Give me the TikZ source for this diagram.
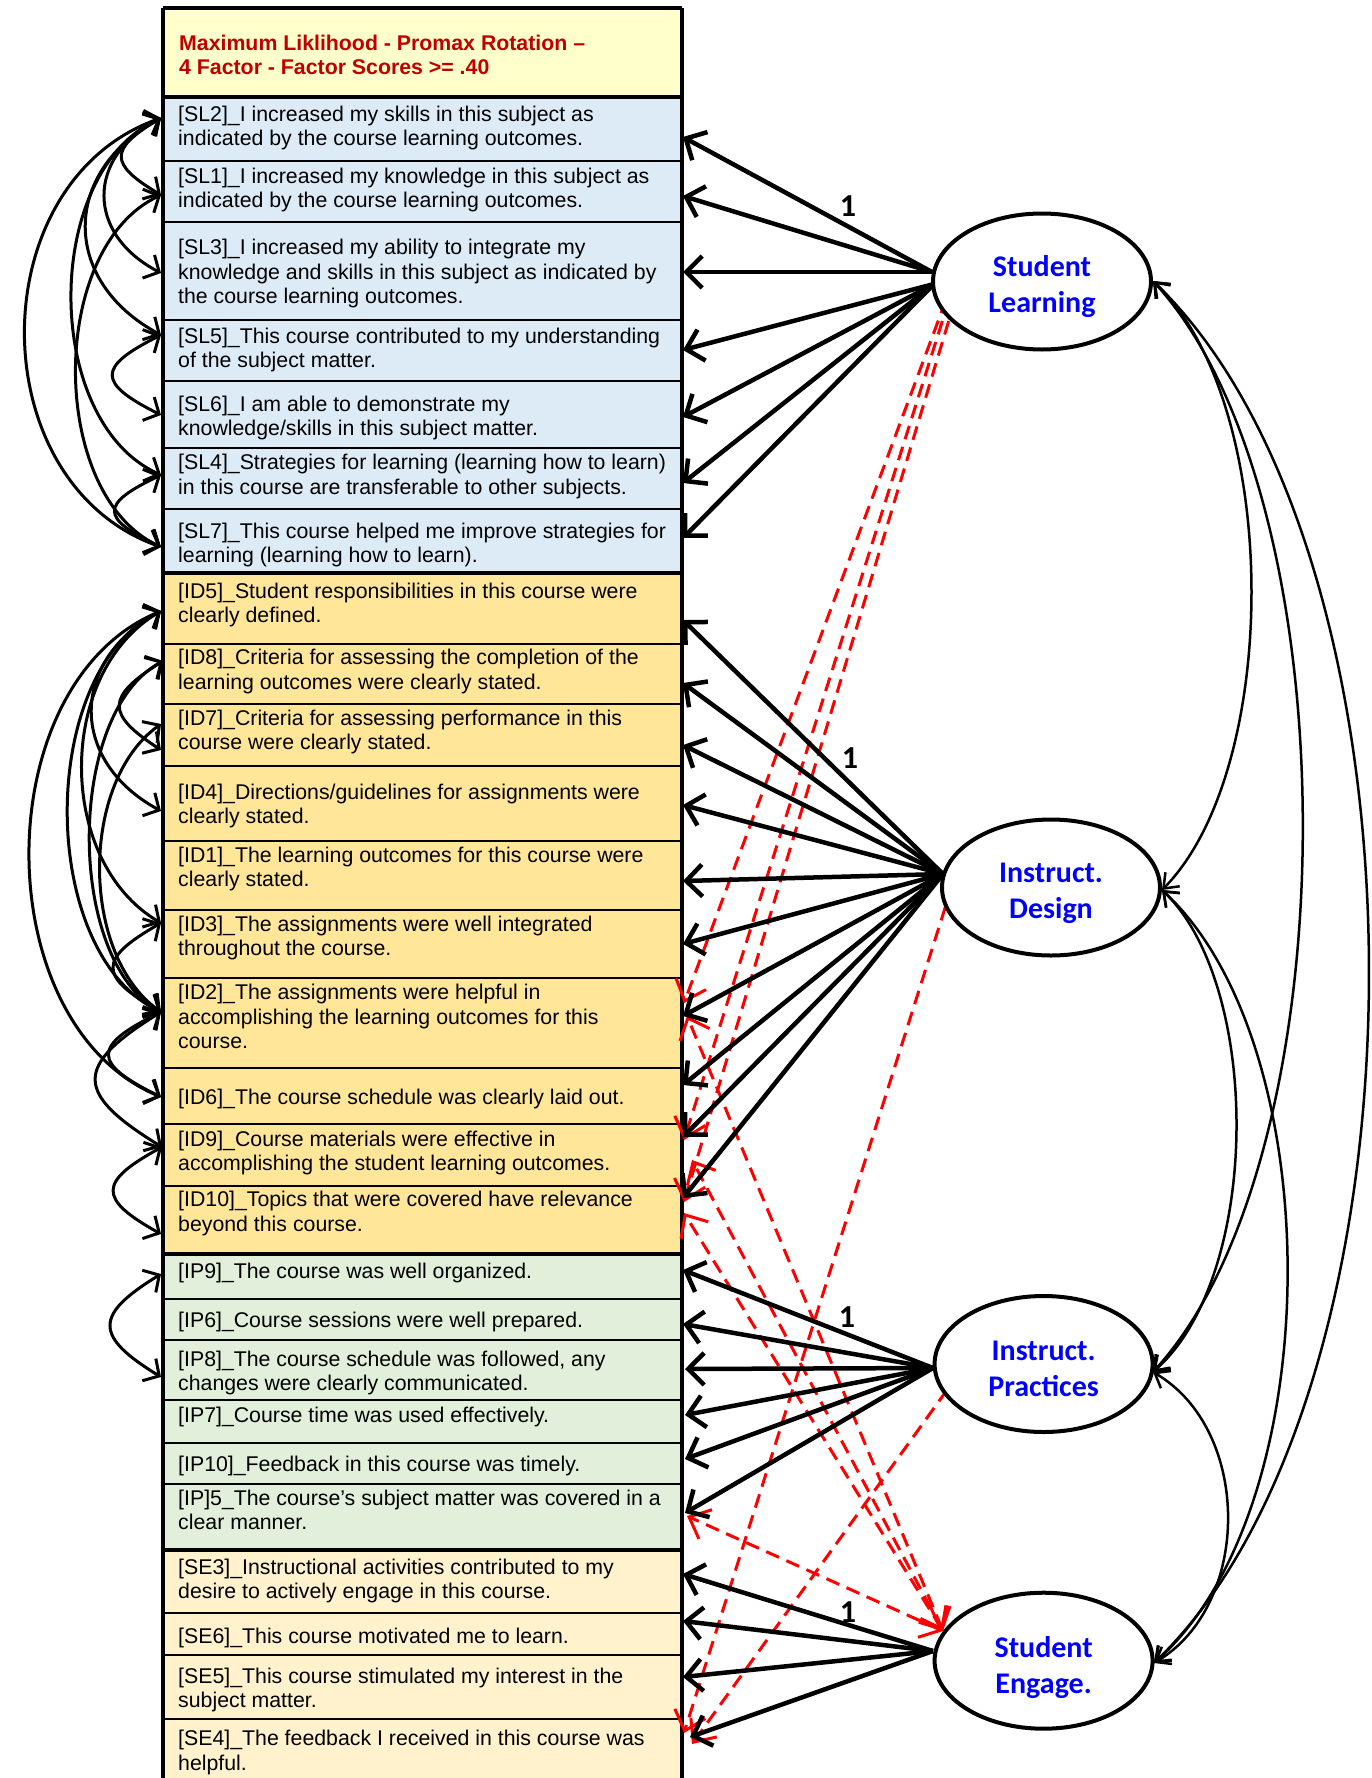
\documentclass[tikz,border=0pt]{standalone}
\usepackage{fontspec}
\setmainfont{Liberation Sans}
\newfontfamily\calibfont{Carlito}
\usetikzlibrary{arrows.meta,shapes.geometric}
\definecolor{hdrc}{HTML}{FFFFCC}
\definecolor{slc}{HTML}{DDEBF7}
\definecolor{idc}{HTML}{FFE699}
\definecolor{ipc}{HTML}{E2EFDA}
\definecolor{sec}{HTML}{FFF2CC}
\definecolor{hdrred}{HTML}{C00000}
\definecolor{fblue}{HTML}{0000FF}
\newcommand{\itemrow}[6]{%
 \pgfmathsetmacro\rowc{(#2+#3)/2}%
 \pgfmathsetmacro\rowh{#3-#2}%
 \pgfmathsetmacro\rowty{#5-7.6}%
 \node[rowbox, fill=#4, minimum height=\rowh pt] (#1) at (422.5,\rowc) {};
 \node[txt] (#1t) at (178,\rowty) {#6};
}
\begin{document}
\begin{tikzpicture}[x=1pt,y=-1pt,
 rowbox/.style={draw, line width=2.5pt, rectangle, minimum width=517pt, inner sep=0pt},
 txt/.style={anchor=north west, align=left, inner sep=0pt, font=\fontsize{21.3}{24.5}\selectfont},
 load/.style={line width=4.5pt, -{Straight Barb[length=16pt,width=32pt]}},
 rdash/.style={draw=red, line width=3pt, dash pattern=on 14pt off 8pt},
 rtip/.style={-{Straight Barb[length=18pt,width=32pt]}},
 rtips/.style={{Straight Barb[length=18pt,width=32pt]}-{Straight Barb[length=18pt,width=32pt]}},
 cov/.style={line width=3pt, {Straight Barb[length=12pt,width=26pt]}-{Straight Barb[length=12pt,width=26pt]}},
 fcov/.style={line width=2.5pt, {Straight Barb[length=13pt,width=20pt]}-{Straight Barb[length=13pt,width=20pt]}},
 factor/.style={ellipse, draw, line width=4pt, fill=white, minimum width=218pt, minimum height=136pt, inner sep=0pt},
 ftext/.style={align=center, inner sep=0pt, text=fblue, font=\calibfont\bfseries\fontsize{30}{36}\selectfont},
 onelab/.style={inner sep=0pt, font=\calibfont\bfseries\fontsize{32}{36}\selectfont}
]
\useasboundingbox (0,0) rectangle (1372,1778);
\fill[white] (0,0) rectangle (1372,1778);

% ---------- table ----------
\node[rowbox, fill=hdrc, minimum height=89pt] (HDR) at (422.5,53.5) {};
\node[txt, text=hdrred, font=\bfseries\fontsize{21.3}{24}\selectfont] (HDRt) at (179,35.1) {Maximum Liklihood - Promax Rotation --\\4 Factor - Factor Scores >= .40};

\itemrow{SL2}{98}{161}{slc}{113.3}{[SL2]\_I increased my skills in this subject as\\indicated by the course learning outcomes.}
\itemrow{SL1}{161}{222}{slc}{175}{[SL1]\_I increased my knowledge in this subject as\\indicated by the course learning outcomes.}
\itemrow{SL3}{222}{320}{slc}{246.7}{[SL3]\_I increased my ability to integrate my\\knowledge and skills in this subject as indicated by\\the course learning outcomes.}
\itemrow{SL5}{320}{381}{slc}{335}{[SL5]\_This course contributed to my understanding\\of the subject matter.}
\itemrow{SL6}{381}{448}{slc}{403.3}{[SL6]\_I am able to demonstrate my\\knowledge/skills in this subject matter.}
\itemrow{SL4}{448}{509}{slc}{461.7}{[SL4]\_Strategies for learning (learning how to learn)\\in this course are transferable to other subjects.}
\itemrow{SL7}{509}{574}{slc}{530}{[SL7]\_This course helped me improve strategies for\\learning (learning how to learn).}
\itemrow{ID5}{574}{644}{idc}{590.4}{[ID5]\_Student responsibilities in this course were\\clearly defined.}
\itemrow{ID8}{644}{704}{idc}{656.7}{[ID8]\_Criteria for assessing the completion of the\\learning outcomes were clearly stated.}
\itemrow{ID7}{704}{766}{idc}{717.4}{[ID7]\_Criteria for assessing performance in this\\course were clearly stated.}
\itemrow{ID4}{766}{841}{idc}{791}{[ID4]\_Directions/guidelines for assignments were\\clearly stated.}
\itemrow{ID1}{841}{910}{idc}{854}{[ID1]\_The learning outcomes for this course were\\clearly stated.}
\itemrow{ID3}{910}{978}{idc}{923.4}{[ID3]\_The assignments were well integrated\\throughout the course.}
\itemrow{ID2}{978}{1068}{idc}{991.5}{[ID2]\_The assignments were helpful in\\accomplishing the learning outcomes for this\\course.}
\itemrow{ID6}{1068}{1124}{idc}{1096.9}{[ID6]\_The course schedule was clearly laid out.}
\itemrow{ID9}{1124}{1186}{idc}{1138}{[ID9]\_Course materials were effective in\\accomplishing the student learning outcomes.}
\itemrow{ID10}{1186}{1255}{idc}{1198.8}{[ID10]\_Topics that were covered have relevance\\beyond this course.}
\itemrow{IP9}{1255}{1299}{ipc}{1270.9}{[IP9]\_The course was well organized.}
\itemrow{IP6}{1299}{1340}{ipc}{1319.6}{[IP6]\_Course sessions were well prepared.}
\itemrow{IP8}{1340}{1400}{ipc}{1358.4}{[IP8]\_The course schedule was followed, any\\changes were clearly communicated.}
\itemrow{IP7}{1400}{1443}{ipc}{1414.3}{[IP7]\_Course time was used effectively.}
\itemrow{IP10}{1443}{1484}{ipc}{1463}{[IP10]\_Feedback in this course was timely.}
\itemrow{IP5}{1484}{1551}{ipc}{1497.4}{[IP]5\_The course’s subject matter was covered in a\\clear manner.}
\itemrow{SE3}{1551}{1613}{sec}{1566}{[SE3]\_Instructional activities contributed to my\\desire to actively engage in this course.}
\itemrow{SE6}{1613}{1655}{sec}{1635.3}{[SE6]\_This course motivated me to learn.}
\itemrow{SE5}{1655}{1719}{sec}{1675}{[SE5]\_This course stimulated my interest in the\\subject matter.}
\itemrow{SE4}{1719}{1800}{sec}{1737.6}{[SE4]\_The feedback I received in this course was\\helpful.}

\draw[line width=4pt] (HDR.north west) -- (HDR.north east);
\draw[line width=4pt] (SL2.north west) -- (SL2.north east);
\draw[line width=4pt] (ID5.north west) -- (ID5.north east);
\draw[line width=4pt] (IP9.north west) -- (IP9.north east);
\draw[line width=4pt] (SE3.north west) -- (SE3.north east);
\draw[line width=4pt] (HDR.north west) -- (SE4.south west);
\draw[line width=4pt] (HDR.north east) -- (SE4.south east);

% ---------- left end points ----------
\coordinate (lSL2) at (161,118);  \coordinate (lSL1) at (161,195);
\coordinate (lSL3) at (161,273);  \coordinate (lSL5) at (161,335);
\coordinate (lSL6) at (161,415);  \coordinate (lSL4) at (161,475);
\coordinate (lSL7) at (161,547);
\coordinate (lID5) at (161,611);  \coordinate (lID8) at (163,661);
\coordinate (lID7a) at (161,724); \coordinate (lID7b) at (161,750);
\coordinate (lID4) at (161,811);  \coordinate (lID3) at (161,923);
\coordinate (lID2) at (161,1012); \coordinate (lID6) at (161,1097);
\coordinate (lID9) at (162,1147); \coordinate (lID10) at (161,1234);
\coordinate (lIP9) at (161,1274); \coordinate (lIP8) at (161,1377);

% ---------- error covariances (left) ----------
\draw[cov] (lSL2) .. controls (109,149) and (109,164) .. (lSL1);
\draw[cov] (lSL2) .. controls (86,157) and (86,234) .. (lSL3);
\draw[cov] (lSL2) .. controls (61,172) and (61,281) .. (lSL5);
\draw[cov] (lSL2) .. controls (42,172) and (42,421) .. (lSL4);
\draw[cov] (lSL2) .. controls (-20,182) and (-20,483) .. (lSL7);
\draw[cov] (lSL1) .. controls (48,248) and (48,494) .. (lSL7);
\draw[cov] (lSL5) .. controls (97,367) and (97,383) .. (lSL6);
\draw[cov] (lSL4) .. controls (100,504) and (100,518) .. (lSL7);

\draw[cov] (lID5) .. controls (-14,684) and (-14,1024) .. (lID6);
\draw[cov] (lID5) .. controls (37,671) and (37,952) .. (lID2);
\draw[cov] (lID5) .. controls (69,661) and (69,761) .. (lID4);
\draw[cov] (lID5) .. controls (56,673) and (56,861) .. (lID3);
\draw[cov] (lID8) .. controls (106,697) and (106,714) .. (lID7b);
\draw[cov] (lID8) .. controls (66,714) and (66,959) .. (lID2);
\draw[cov] (lID7a) .. controls (80,782) and (80,954) .. (lID2);
\draw[cov] (lID3) .. controls (98,959) and (98,976) .. (lID2);
\draw[cov] (lID2) .. controls (92,1046) and (92,1063) .. (lID6);
\draw[cov] (lID2) .. controls (74,1066) and (74,1093) .. (lID9);
\draw[cov] (lID9) .. controls (98,1182) and (98,1199) .. (lID10);
\draw[cov] (lIP9) .. controls (94,1315) and (94,1336) .. (lIP8);

% ---------- right end points ----------
\coordinate (rSL2) at (683,137); \coordinate (rSL1) at (683,196);
\coordinate (rSL3) at (683,272); \coordinate (rSL5) at (683,350);
\coordinate (rSL6) at (683,417); \coordinate (rSL4) at (683,483);
\coordinate (rSL7) at (683,538);
\coordinate (rID5) at (683,620); \coordinate (rID8) at (683,683);
\coordinate (rID7) at (683,745); \coordinate (rID4) at (683,805);
\coordinate (rID1) at (683,881); \coordinate (rID3) at (683,944);
\coordinate (rID2) at (683,1016); \coordinate (rID6) at (683,1085);
\coordinate (rID9) at (683,1137); \coordinate (rID10) at (683,1198);
\coordinate (rIP9) at (683,1270); \coordinate (rIP6) at (683,1324);
\coordinate (rIP8) at (685,1369); \coordinate (rIP7) at (685,1415);
\coordinate (rIP10) at (685,1459); \coordinate (rIP5) at (685,1513);
\coordinate (rSE3) at (683,1574); \coordinate (rSE6) at (683,1621);
\coordinate (rSE5) at (683,1677); \coordinate (rSE4) at (690,1737);

% ---------- cross loadings (red dashed) ----------
\coordinate (dSLa) at (946,300); \coordinate (dSLb) at (949,300); \coordinate (dSLc) at (955,300);
\coordinate (dID2a) at (684,1003); \coordinate (dID9a) at (684,1140); \coordinate (dID10a) at (684,1202);
\coordinate (dSE) at (943,1631);
\coordinate (dID2b) at (687,1016); \coordinate (dID9b) at (692,1160); \coordinate (dID10b) at (684,1213);
\coordinate (dIP5) at (687,1516);
\coordinate (dIDo) at (952,886); \coordinate (dIPo) at (947,1390);
\coordinate (dSE4a) at (684,1733); \coordinate (dSE4b) at (692,1744);

\draw[rdash,rtip] (dSLa) -- (dID2a);
\draw[rdash,rtip] (dSLb) -- (dID9a);
\draw[rdash,rtip] (dSLc) -- (dID10a);
\draw[rdash,rtips] (dSE) -- (dID2b);
\draw[rdash,rtips] (dSE) -- (dID9b);
\draw[rdash,rtips] (dSE) -- (dID10b);
\draw[rdash,rtips] (dSE) -- (dIP5);
\draw[rdash,rtip] (dIDo) -- (dSE4a);
\draw[rdash,rtip] (dIPo) -- (dSE4b);

% ---------- loadings ----------
\coordinate (oSLa) at (932,272); \coordinate (oSLb) at (934,284);
\coordinate (oID) at (943,874); \coordinate (oIP) at (933,1368); \coordinate (oSE) at (933,1651);
\foreach \t in {SL2,SL1,SL3} \draw[load] (oSLa) -- (r\t);
\foreach \t in {SL5,SL6,SL4,SL7} \draw[load] (oSLb) -- (r\t);
\foreach \t in {ID5,ID8,ID7,ID4,ID1,ID3,ID2,ID6,ID9,ID10} \draw[load] (oID) -- (r\t);
\foreach \t in {IP9,IP6,IP8,IP7,IP10,IP5} \draw[load] (oIP) -- (r\t);
\foreach \t in {SE3,SE6,SE5,SE4} \draw[load] (oSE) -- (r\t);

% ---------- factors ----------
\node[factor] (FSL) at (1042,281.5) {};
\node[factor] (FID) at (1051,887.5) {};
\node[factor] (FIP) at (1043.6,1364) {};
\node[factor] (FSE) at (1043.6,1660.7) {};
\node[ftext] (FSLt) at (1042,287) {Student\\Learning};
\node[ftext] (FIDt) at (1051,893) {Instruct.\\Design};
\node[ftext] (FIPt) at (1043.6,1369) {Instruct.\\Practices};
\node[ftext] (FSEt) at (1043.6,1667) {Student\\Engage.};

\node[onelab] (one1) at (848,206) {1};
\node[onelab] (one2) at (850,758) {1};
\node[onelab] (one3) at (847,1317) {1};
\node[onelab] (one4) at (848,1612) {1};

% ---------- factor covariances ----------
\coordinate (cSL) at (1153,281); \coordinate (cID) at (1162,890);
\coordinate (cIP) at (1153,1372); \coordinate (cSE) at (1154,1663);
\draw[fcov] (cSL) .. controls (1282,403) and (1282,768) .. (cID);
\draw[fcov] (cSL) .. controls (1352,499) and (1352,1154) .. (cIP);
\draw[fcov] (cSL) .. controls (1440,557) and (1440,1387) .. (cSE);
\draw[fcov] (cID) .. controls (1262,986) and (1262,1276) .. (cIP);
\draw[fcov] (cID) .. controls (1330,1045) and (1330,1508) .. (cSE);
\draw[fcov] (cIP) .. controls (1252,1430) and (1252,1605) .. (cSE);
\end{tikzpicture}
\end{document}
